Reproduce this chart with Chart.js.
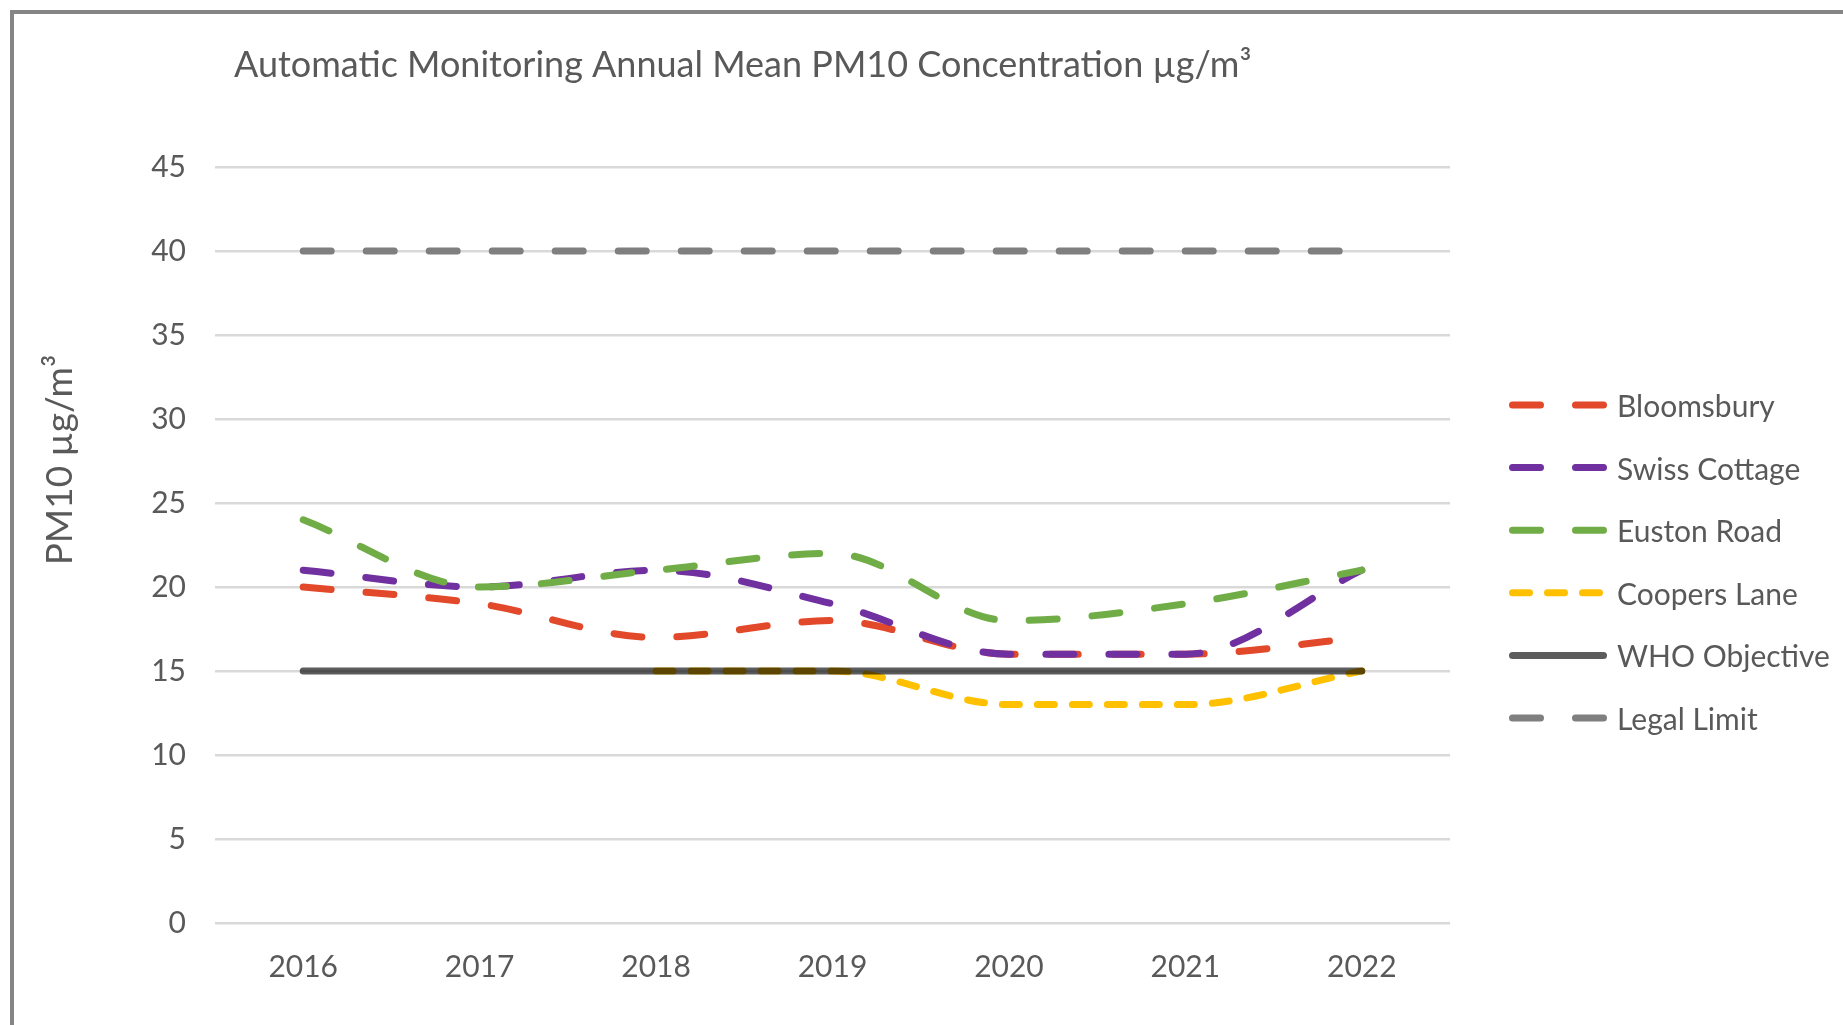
<!DOCTYPE html>
<html>
<head>
<meta charset="utf-8">
<script src="https://cdn.jsdelivr.net/npm/chart.js"></script>
<style>
    body { margin: 0; background: #ffffff; overflow: hidden; }
    #frame { position: absolute; left: 10px; top: 10px; width: 1900px; height: 1100px; border: 4px solid #858585; }
    #pm10_chart { position: absolute; left: 0; top: 0; }
</style>
</head>
<body>
<div id="frame"></div>
<canvas id="pm10_chart" width="1843" height="1025"></canvas>
<script>
// data
const years = ['2016', '2017', '2018', '2019', '2020', '2021', '2022'];
const seriesNames = ['Bloomsbury', 'Swiss Cottage', 'Euston Road', 'Coopers Lane', 'WHO Objective', 'Legal Limit'];
const bloomsbury = [20, 19, 17, 18, 16, 16, 17];
const swissCottage = [21, 20, 21, 19, 16, 16, 21];
const eustonRoad = [24, 20, 21, 22, 18, 19, 21];
const coopersLane = [null, null, 15, 15, 13, 13, 15];
const whoObjective = [15, 15, 15, 15, 15, 15, 15];
const legalLimit = [40, 40, 40, 40, 40, 40, 40];
const yMin = 0;
const yMax = 45;
const yStep = 5;

const chartTitle = 'Automatic Monitoring Annual Mean PM10 Concentration \u00b5g/m\u00b3';
const yAxisTitle = 'PM10 \u00b5g/m\u00b3';

const TEXT_COLOR = '#595959';
const FONT = 'Lato';
const LONG_DASH = [28, 35];
const SHORT_DASH = [17, 18];

// draws title, y axis title and the legend (line samples like excel)
const chartDecor = {
    id: 'chartDecor',
    afterDraw(chart){
        const ctx = chart.ctx;
        ctx.save();
        ctx.fillStyle = TEXT_COLOR;
        ctx.font = '36px ' + FONT;
        ctx.textAlign = 'left';
        ctx.textBaseline = 'alphabetic';
        ctx.fillText(chartTitle, 234, 77);

        ctx.save();
        ctx.font = '37px ' + FONT;
        ctx.translate(72, 460);
        ctx.rotate(-Math.PI / 2);
        ctx.textAlign = 'center';
        ctx.fillText(yAxisTitle, 0, 0);
        ctx.restore();

        ctx.font = '30px ' + FONT;
        chart.data.datasets.forEach((ds, i) => {
            const y = 405 + i * 62.6;
            ctx.save();
            ctx.strokeStyle = ds.borderColor;
            ctx.lineWidth = 7;
            ctx.lineCap = 'round';
            ctx.setLineDash(ds.borderDash || []);
            ctx.beginPath();
            ctx.moveTo(1512.5, y);
            ctx.lineTo(1603.5, y);
            ctx.stroke();
            ctx.restore();
            ctx.fillText(ds.label, 1617, y + 12);
        });
        ctx.restore();
    }
};

function makeDataset(i, values, color, dash, order){
    return {
        label: seriesNames[i],
        data: values,
        borderColor: color,
        backgroundColor: color,
        borderDash: dash,
        order: order,
        fill: false
    };
}

function initChart(){
    const ctx = document.getElementById('pm10_chart').getContext('2d');
    const who = makeDataset(4, whoObjective, 'rgba(0, 0, 0, 0.64)', [], 2);
    who.cubicInterpolationMode = 'default';
    who.tension = 0;
    const legal = makeDataset(5, legalLimit, '#7f7f7f', LONG_DASH, 1);
    legal.cubicInterpolationMode = 'default';
    legal.tension = 0;

    new Chart(ctx, {
        type: 'line',
        data: {
            labels: years,
            datasets: [
                makeDataset(0, bloomsbury, '#e2492a', LONG_DASH, 6),
                makeDataset(1, swissCottage, '#7030a0', LONG_DASH, 5),
                makeDataset(2, eustonRoad, '#70ad47', LONG_DASH, 4),
                makeDataset(3, coopersLane, '#ffc000', SHORT_DASH, 3),
                who,
                legal
            ]
        },
        options: {
            responsive: false,
            animation: false,
            layout: {
                padding: { top: 167, right: 393, bottom: 0, left: 0 }
            },
            elements: {
                point: { radius: 0, hoverRadius: 0 },
                line: {
                    borderWidth: 7,
                    borderCapStyle: 'round',
                    borderJoinStyle: 'round',
                    cubicInterpolationMode: 'monotone'
                }
            },
            plugins: {
                legend: { display: false },
                title: { display: false },
                tooltip: { enabled: false }
            },
            scales: {
                x: {
                    offset: true,
                    grid: { display: false },
                    border: { display: false },
                    ticks: {
                        color: TEXT_COLOR,
                        font: { family: FONT, size: 30 },
                        padding: 18
                    },
                    afterFit: function(scale){ scale.height = 102; }
                },
                y: {
                    min: yMin,
                    max: yMax,
                    grid: { color: '#d9d9d9', lineWidth: 2.5, drawTicks: false },
                    border: { display: false },
                    ticks: {
                        stepSize: yStep,
                        color: TEXT_COLOR,
                        font: { family: FONT, size: 30 },
                        padding: 29
                    },
                    afterFit: function(scale){ scale.width = 215; }
                }
            }
        },
        plugins: [chartDecor]
    });
}

initChart();
</script>
</body>
</html>
